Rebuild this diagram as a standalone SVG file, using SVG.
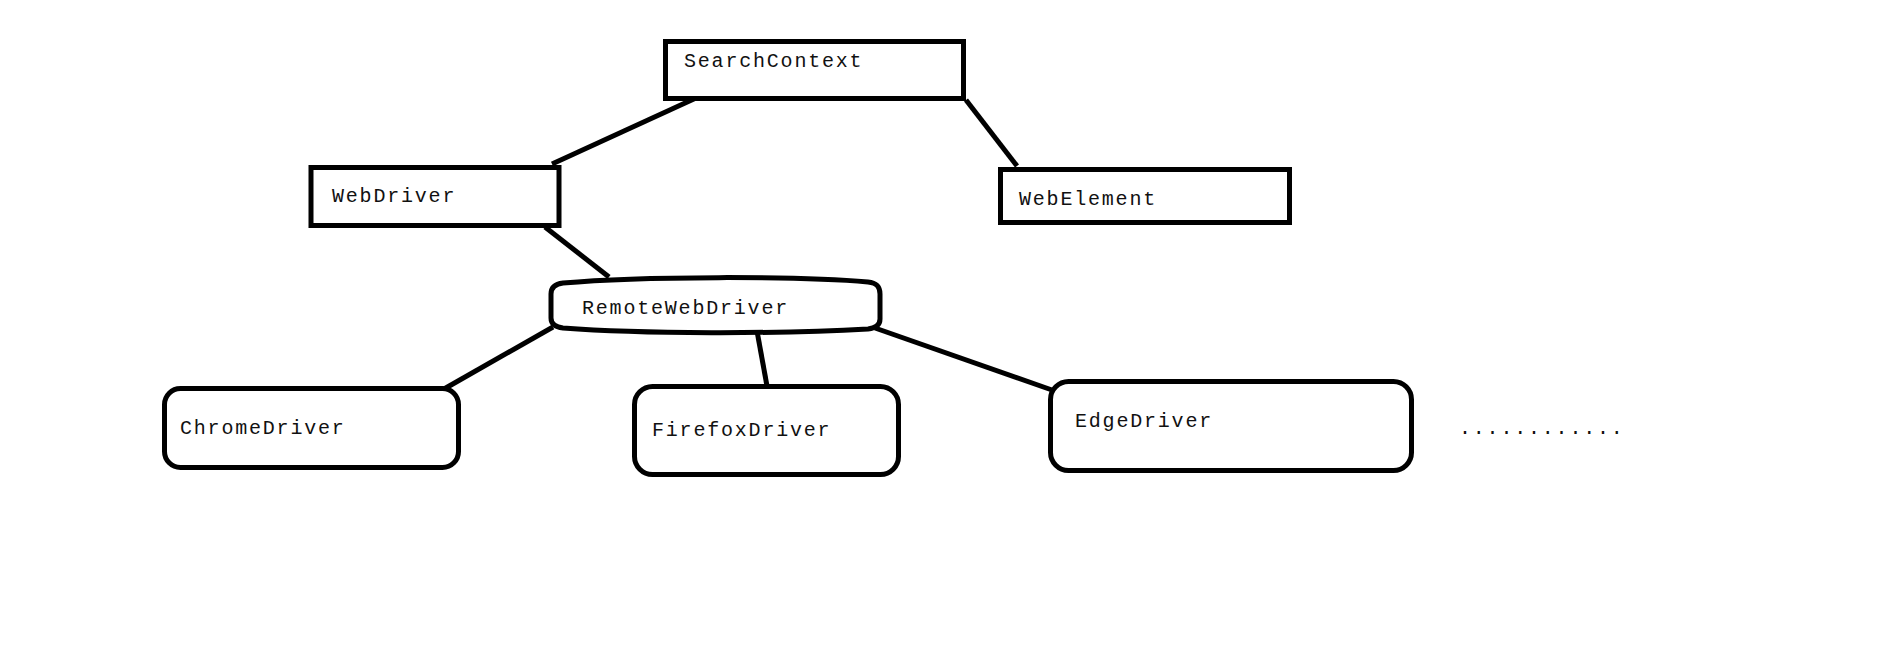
<svg xmlns="http://www.w3.org/2000/svg" width="1879" height="648" viewBox="0 0 1879 648">
<style>
.box{fill:#fff;stroke:#000;stroke-width:5}
.lbl{font-family:"Liberation Mono","DejaVu Sans Mono",monospace;font-size:20px;letter-spacing:1.8px;fill:#111}
.conn line{stroke:#000;stroke-width:5;stroke-linecap:butt}
</style>
<rect width="1879" height="648" fill="#fff"/>
<g id="connectors" class="conn">
<line x1="696" y1="98" x2="552" y2="164"/>
<line x1="966" y1="100" x2="1017" y2="166"/>
<line x1="545" y1="227" x2="609" y2="277"/>
<line x1="553" y1="327" x2="444" y2="389"/>
<line x1="757" y1="331" x2="767" y2="386"/>
<line x1="875" y1="328" x2="1052" y2="390"/>
</g>
<g id="SearchContext">
<rect class="box" x="665.5" y="41.5" width="298" height="57"/>
<text class="lbl" x="684" y="67">SearchContext</text>
</g>
<g id="WebDriver">
<rect class="box" x="311" y="167.5" width="248" height="58"/>
<text class="lbl" x="332" y="202">WebDriver</text>
</g>
<g id="WebElement">
<rect class="box" x="1000.5" y="169.5" width="289" height="53"/>
<text class="lbl" x="1019" y="205">WebElement</text>
</g>
<g id="RemoteWebDriver">
<path class="box" d="M563,283 C640,276 800,276 868,282 C878,283 880,288 880,294 L880,319 C880,325 876,328 868,329 C780,334 640,334 563,328 C555,327 551,324 551,318 L551,294 C551,288 555,284 563,283 Z"/>
<text class="lbl" x="582" y="314">RemoteWebDriver</text>
</g>
<g id="ChromeDriver">
<rect class="box" x="164.5" y="388.5" width="294" height="79" rx="16" ry="16"/>
<text class="lbl" x="180" y="434">ChromeDriver</text>
</g>
<g id="FirefoxDriver">
<rect class="box" x="634.5" y="386.5" width="264" height="88" rx="18" ry="18"/>
<text class="lbl" x="652" y="436">FirefoxDriver</text>
</g>
<g id="EdgeDriver">
<rect class="box" x="1050.5" y="381.5" width="361" height="89" rx="18" ry="18"/>
<text class="lbl" x="1075" y="427">EdgeDriver</text>
</g>
<g id="more">
<text class="lbl" x="1459" y="434">............</text>
</g>
</svg>
